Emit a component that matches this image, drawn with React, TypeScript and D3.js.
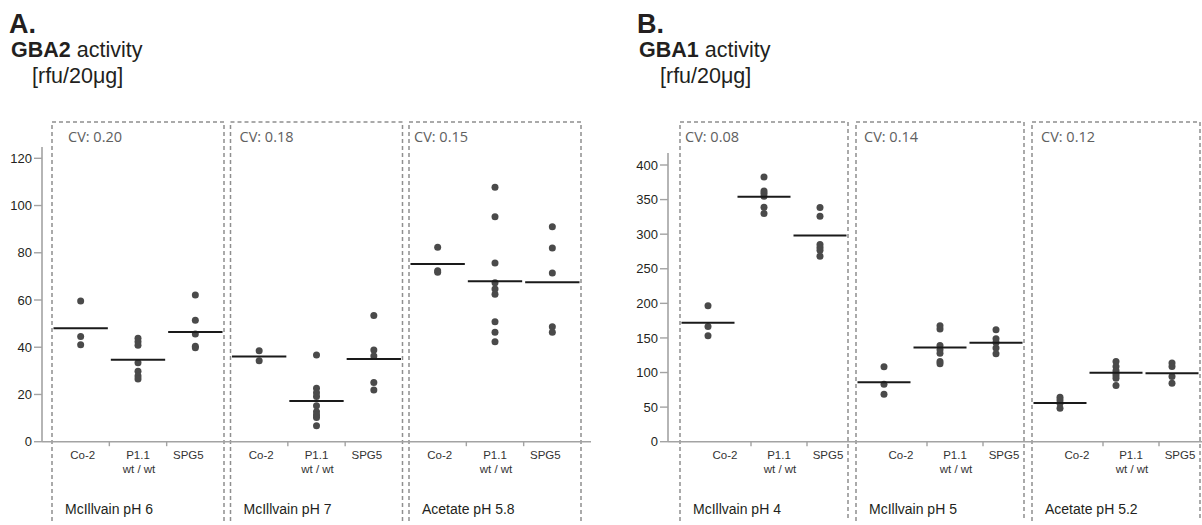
import React from 'react';
import * as d3 from 'd3';

// cell lines, one band each inside every buffer box
const groups = ['Co-2', 'P1.1', 'SPG5'];
const groupSub = ['', 'wt / wt', ''];

// A. GBA2 activity [rfu/20ug]
const gba2Buffers = ['McIllvain pH 6', 'McIllvain pH 7', 'Acetate pH 5.8'];
const gba2CV = ['0.20', '0.18', '0.15'];
const gba2Ph6 = [[59.6, 44.5, 41.1], [43.8, 42.3, 40.8, 33.4, 29.8, 27.8, 26.6], [62.1, 51.4, 45.6, 40.4, 39.8]];
const gba2Ph6Mean = [48.0, 34.7, 46.4];
const gba2Ph7 = [[38.5, 34.3], [36.7, 22.6, 20.7, 19.1, 15.2, 12.7, 11.3, 10.2, 6.8], [53.4, 38.8, 36.3, 25.1, 21.9]];
const gba2Ph7Mean = [36.1, 17.2, 35.0];
const gba2Ac58 = [[82.3, 72.4, 71.7], [107.7, 95.3, 75.7, 67.3, 64.7, 62.4, 50.8, 46.3, 42.3], [91.0, 82.0, 71.4, 48.7, 46.3]];
const gba2Ac58Mean = [75.2, 67.9, 67.5];
const gba2Ticks = [0, 20, 40, 60, 80, 100, 120];

// B. GBA1 activity [rfu/20ug]
const gba1Buffers = ['McIllvain pH 4', 'McIllvain pH 5', 'Acetate pH 5.2'];
const gba1CV = ['0.08', '0.14', '0.12'];
const gba1Ph4 = [[196.7, 166.7, 153.2], [382.6, 362.3, 359.0, 355.0, 339.0, 330.0], [338.7, 326.0, 285.0, 280.7, 276.8, 268.0]];
const gba1Ph4Mean = [172, 354, 298];
const gba1Ph5 = [[108.3, 83.2, 68.7], [167.7, 162.9, 139.0, 132.9, 128.0, 116.0, 112.6], [161.9, 148.8, 143.5, 135.4, 127.1]];
const gba1Ph5Mean = [86, 136, 143];
const gba1Ac52 = [[64.3, 60.4, 55.6, 48.4], [116.0, 108.7, 102.5, 99.1, 95.2, 91.9, 81.2], [113.6, 108.7, 94.2, 84.6]];
const gba1Ac52Mean = [56, 99.6, 99.1];
const gba1Ticks = [0, 50, 100, 150, 200, 250, 300, 350, 400];

const W = 1202;
const H = 525;
const AXIS_Y = 441.7;
const BOX_TOP = 122;
const BOX_BOTTOM = 521;
const AXIS_COLOR = '#a3a3a3';
const BOX_COLOR = '#8f8f8f';
const DOT_COLOR = '#4a4a4a';
const SANS = '"Liberation Sans", Arial, Helvetica, sans-serif';
const CV_FONT = '"Open Sans", "Liberation Sans", sans-serif';
// small nudges of the cell line names, as in the figure
const labelNudge = [2, 0, -7];

type Panel = {
  letter: string;
  gene: string;
  x: number;
  axisX: number;
  axisTop: number;
  axisEnd: number;
  boxStart: number;
  boxW: number;
  boxGap: number;
  labelShift: number;
  cvInset: number[];
  max: number;
  yTop: number;
  ticks: number[];
  buffers: string[];
  cv: string[];
  dots: number[][][];
  means: number[][];
};

const panels: Panel[] = [
  {
    letter: 'A.', gene: 'GBA2', x: 9, axisX: 42, axisTop: 147, axisEnd: 591,
    boxStart: 52, boxW: 172, boxGap: 6.5, labelShift: 0, cvInset: [16, 9, 5],
    max: 120, yTop: 158.3, ticks: gba2Ticks, buffers: gba2Buffers, cv: gba2CV,
    dots: [gba2Ph6, gba2Ph7, gba2Ac58], means: [gba2Ph6Mean, gba2Ph7Mean, gba2Ac58Mean],
  },
  {
    letter: 'B.', gene: 'GBA1', x: 637, axisX: 668, axisTop: 153, axisEnd: 1202,
    boxStart: 680, boxW: 168, boxGap: 8, labelShift: 15, cvInset: [5, 8, 9],
    max: 400, yTop: 165, ticks: gba1Ticks, buffers: gba1Buffers, cv: gba1CV,
    dots: [gba1Ph4, gba1Ph5, gba1Ac52], means: [gba1Ph4Mean, gba1Ph5Mean, gba1Ac52Mean],
  },
];

const PanelView = ({ p }: { p: Panel }) => {
  const y = d3.scaleLinear().domain([0, p.max]).range([AXIS_Y, p.yTop]);
  const boxes = p.buffers.map((b, i) => {
    const x0 = p.boxStart + i * (p.boxW + p.boxGap);
    return { name: b, x0, x1: x0 + p.boxW, band: d3.scaleBand().domain(groups).range([x0, x0 + p.boxW]) };
  });

  return (
    <g>
      {/* title */}
      <text x={p.x} y={33} fontFamily={SANS} fontWeight="bold" fontSize={27} fill="#231f20">{p.letter}</text>
      <text x={p.x + 2} y={57} fontFamily={SANS} fontSize={21.5} fill="#231f20">
        <tspan fontWeight="bold">{p.gene}</tspan> activity
      </text>
      <text x={p.x + 23} y={83} fontFamily={SANS} fontSize={21.5} fill="#231f20">[rfu/20μg]</text>

      {/* dashed buffer boxes */}
      {boxes.map((b, i) => (
        <g key={b.name}>
          <path
            d={`M${b.x0},${BOX_BOTTOM}V${BOX_TOP}H${b.x1}V${BOX_BOTTOM}`}
            fill="none" stroke={BOX_COLOR} strokeWidth={1.5} strokeDasharray="4,3"
          />
          <text x={b.x0 + p.cvInset[i]} y={142} fontFamily={CV_FONT} fontSize={14.5} fill="#606060">
            CV: {p.cv[i]}
          </text>
          <text x={b.x0 + 13} y={513.5} fontFamily={SANS} fontSize={14} fill="#231f20">{b.name}</text>
        </g>
      ))}

      {/* axes */}
      <line x1={p.axisX} x2={p.axisX} y1={p.axisTop} y2={AXIS_Y} stroke={AXIS_COLOR} strokeWidth={1.6} />
      <line x1={p.axisX} x2={p.axisEnd} y1={AXIS_Y} y2={AXIS_Y} stroke={AXIS_COLOR} strokeWidth={1.6} />
      {p.ticks.map(t => (
        <g key={t} transform={`translate(0,${y(t)})`}>
          <line x1={p.axisX - 8} x2={p.axisX} stroke={AXIS_COLOR} strokeWidth={1.4} />
          <text x={p.axisX - 10} dy="0.35em" textAnchor="end" fontFamily={SANS} fontSize={13} fill="#231f20">{t}</text>
        </g>
      ))}

      {/* category ticks and names */}
      {boxes.map(b => (
        <g key={'x' + b.name}>
          {groups.slice(1).map(g => {
            const tx = (b.band(g) as number) + p.labelShift;
            return <line key={g} x1={tx} x2={tx} y1={AXIS_Y} y2={AXIS_Y + 4.5} stroke={AXIS_COLOR} strokeWidth={1.4} />;
          })}
          {groups.map((g, k) => {
            const cx = (b.band(g) as number) + b.band.bandwidth() / 2 + p.labelShift + labelNudge[k];
            return (
              <g key={g} fontFamily={SANS} fontSize={11.5} fill="#333" textAnchor="middle">
                <text x={cx} y={458.5}>{g}</text>
                {groupSub[k] && <text x={cx + 1} y={473}>{groupSub[k]}</text>}
              </g>
            );
          })}
        </g>
      ))}

      {/* points and means */}
      {boxes.map((b, i) => (
        <g key={'d' + b.name}>
          {groups.map((g, k) => {
            const x0 = b.band(g) as number;
            const cx = x0 + b.band.bandwidth() / 2;
            return (
              <g key={g}>
                {p.dots[i][k].map((v, j) => (
                  <circle key={j} cx={cx} cy={y(v)} r={3.5} fill={DOT_COLOR} />
                ))}
                <line x1={x0 + 1.5} x2={x0 + b.band.bandwidth() - 1.5} y1={y(p.means[i][k])} y2={y(p.means[i][k])}
                  stroke="#1a1a1a" strokeWidth={2} />
              </g>
            );
          })}
        </g>
      ))}
    </g>
  );
};

const App = () => (
  <svg width={W} height={H} style={{ position: 'absolute', left: 0, top: 0, background: '#fff' }}>
    <rect width={W} height={H} fill="#fff" />
    {panels.map(p => <PanelView key={p.letter} p={p} />)}
  </svg>
);

export default App;
